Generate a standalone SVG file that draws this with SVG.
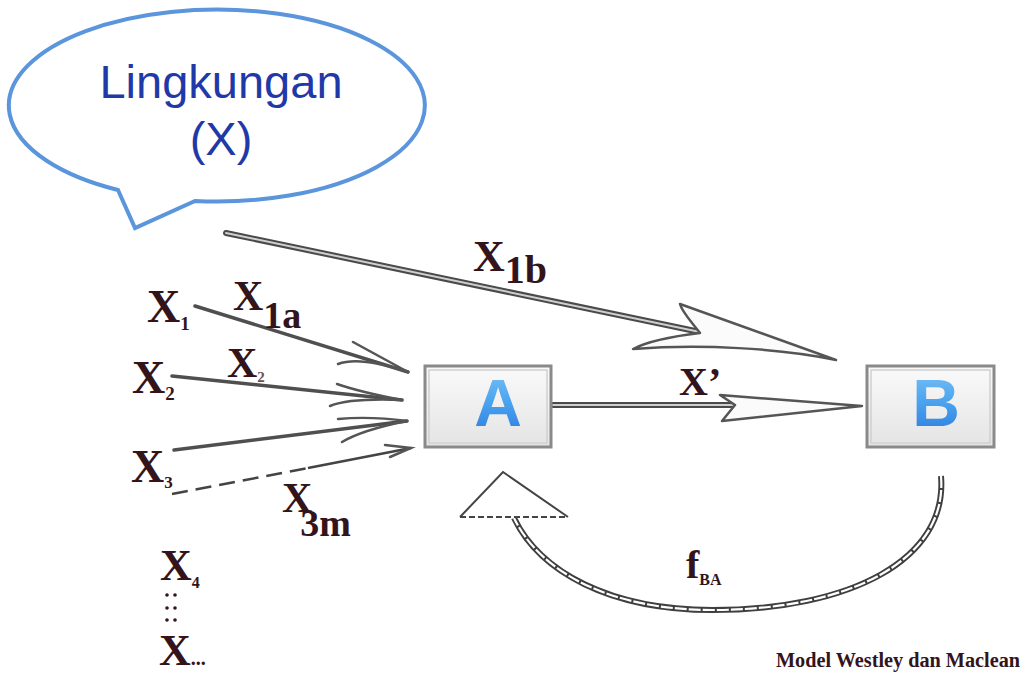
<svg xmlns="http://www.w3.org/2000/svg" width="1027" height="675" viewBox="0 0 1027 675">
<defs>
<linearGradient id="boxFill" x1="0" y1="0" x2="0" y2="1">
<stop offset="0" stop-color="#fafafa"/><stop offset="1" stop-color="#e4e4e4"/>
</linearGradient>
<linearGradient id="blueLetter" x1="0" y1="0" x2="0" y2="1">
<stop offset="0" stop-color="#7cc4f8"/><stop offset="0.5" stop-color="#4aa2ee"/><stop offset="1" stop-color="#2a78dc"/>
</linearGradient>
<style>
.lbl{font-family:"Liberation Serif","Times New Roman",serif;font-weight:bold;fill:#33141b}
.box{fill:url(#boxFill);stroke:#8a8a8a;stroke-width:3}
.boxin{fill:none;stroke:#d0d0d0;stroke-width:1.5}
.letter{font-family:"Liberation Sans",Arial,sans-serif;font-weight:bold;font-size:66px;fill:url(#blueLetter);text-anchor:middle}
.tubeO{fill:none;stroke:#4a4a4a;stroke-width:6;stroke-linecap:round}
.tubeI{fill:none;stroke:#cfcfcf;stroke-width:2;stroke-linecap:round}
.shaft{fill:none;stroke:#4f4f4f;stroke-width:3.5;stroke-linecap:round}
.head{fill:#fbfbfb;stroke:#555;stroke-width:2.5;stroke-linejoin:round}
.barb{fill:none;stroke:#555;stroke-width:2.5;stroke-linecap:round}
.bub{font-family:"Liberation Sans",Arial,sans-serif;font-size:47px;fill:#1f3aa8;text-anchor:middle}
</style>
</defs>
<rect width="1027" height="675" fill="#ffffff"/>

<g id="bubble">
<path d="M118,190 L135,228 L195,201 A208,96 0 1 0 118,190 Z" fill="#ffffff" stroke="#5b95dc" stroke-width="4" stroke-linejoin="miter"/>
<text class="bub" x="221" y="98">Lingkungan</text>
<text class="bub" x="221" y="155">(X)</text>
</g>

<g id="connectors">
<g id="arrow-x1b">
<path class="tubeO" d="M226,233 L700,332"/>
<path class="tubeI" d="M226,233 L700,332"/>
<path class="head" d="M700,333 C690,320 682,312 680,304 L836,360 C780,348 700,344 633,349 C650,340 675,336 700,333 Z"/>
</g>
<g id="arrow-xprime">
<path class="tubeO" d="M553,405 L735,405"/>
<path class="tubeI" d="M553,405 L735,405"/>
<path class="head" d="M735,405 L720,395 L862,406 L722,421 Z"/>
</g>
<g id="arrow-x1a">
<path class="shaft" d="M195,306 L408,372"/>
<path class="barb" d="M353,342 L408,372"/>
<path class="barb" d="M338,364 Q360,356 408,372"/>
</g>
<g id="arrow-x2">
<path class="shaft" d="M172,376 L402,400"/>
<path class="barb" d="M337,384 Q360,392 402,400"/>
<path class="barb" d="M330,406 Q350,398 402,400"/>
</g>
<g id="arrow-x3">
<path class="shaft" d="M174,450 L407,421"/>
<path class="barb" d="M338,419 Q370,416 407,421"/>
<path class="barb" d="M342,442 Q362,430 407,421"/>
</g>
<g id="arrow-x3m">
<path d="M172,494 L308,468" fill="none" stroke="#444" stroke-width="2.5" stroke-dasharray="16,8"/>
<path d="M308,468 L411,448" fill="none" stroke="#444" stroke-width="2.5"/>
<path class="barb" d="M385,445 L411,448 L390,457" stroke-width="2"/>
</g>
<g id="arrow-fba">
<path d="M941,476 C948,560 850,610 712,610 C610,610 540,572 514,518" fill="none" stroke="#3f3f3f" stroke-width="6"/>
<path d="M941,476 C948,560 850,610 712,610 C610,610 540,572 514,518" fill="none" stroke="#ffffff" stroke-width="2.2" stroke-dasharray="12,2"/>
<path d="M460,517 L503,472 L568,517" fill="#ffffff" stroke="#444" stroke-width="2"/>
<path d="M460,517 L568,517" fill="none" stroke="#444" stroke-width="2" stroke-dasharray="6,3"/>
</g>
</g>

<g id="node-A">
<rect class="box" x="425" y="366" width="126" height="81"/>
<rect class="boxin" x="429" y="370" width="118" height="73"/>
<text class="letter" x="498" y="426">A</text>
</g>
<g id="node-B">
<rect class="box" x="867" y="366" width="127" height="81"/>
<rect class="boxin" x="871" y="370" width="119" height="73"/>
<text class="letter" x="936" y="426">B</text>
</g>

<g id="labels">
<text class="lbl" x="147" y="322" font-size="46">X<tspan font-size="19" dy="8">1</tspan></text>
<text class="lbl" x="233" y="310" font-size="42">X<tspan font-size="38" dy="18">1a</tspan></text>
<text class="lbl" x="132" y="393" font-size="46">X<tspan font-size="19" dy="7">2</tspan></text>
<text class="lbl" x="227" y="377" font-size="42">X<tspan font-size="15" dy="5" fill="#6a5055">2</tspan></text>
<text class="lbl" x="131" y="482" font-size="46">X<tspan font-size="17" dy="6">3</tspan></text>
<text class="lbl" x="282" y="512" font-size="42">X<tspan font-size="38" dx="-12" dy="24">3m</tspan></text>
<text class="lbl" x="160" y="580" font-size="44">X<tspan font-size="16" dy="8">4</tspan></text>
<g fill="#33141b">
<circle cx="167" cy="595" r="1.8"/><circle cx="175" cy="595" r="1.8"/>
<circle cx="167" cy="608" r="1.8"/><circle cx="175" cy="608" r="1.8"/>
<circle cx="167" cy="620" r="1.8"/><circle cx="175" cy="620" r="1.8"/>
</g>
<text class="lbl" x="159" y="665" font-size="44">X<tspan font-size="20">...</tspan></text>
<text class="lbl" x="473" y="271" font-size="44">X<tspan font-size="40" dy="12">1b</tspan></text>
<text class="lbl" x="679" y="395" font-size="40">X’</text>
<text class="lbl" x="686" y="578" font-size="40">f<tspan font-size="16" dy="7">BA</tspan></text>
<text class="lbl" x="776" y="667" font-size="20" textLength="244" lengthAdjust="spacingAndGlyphs">Model Westley dan Maclean</text>
</g>
</svg>
